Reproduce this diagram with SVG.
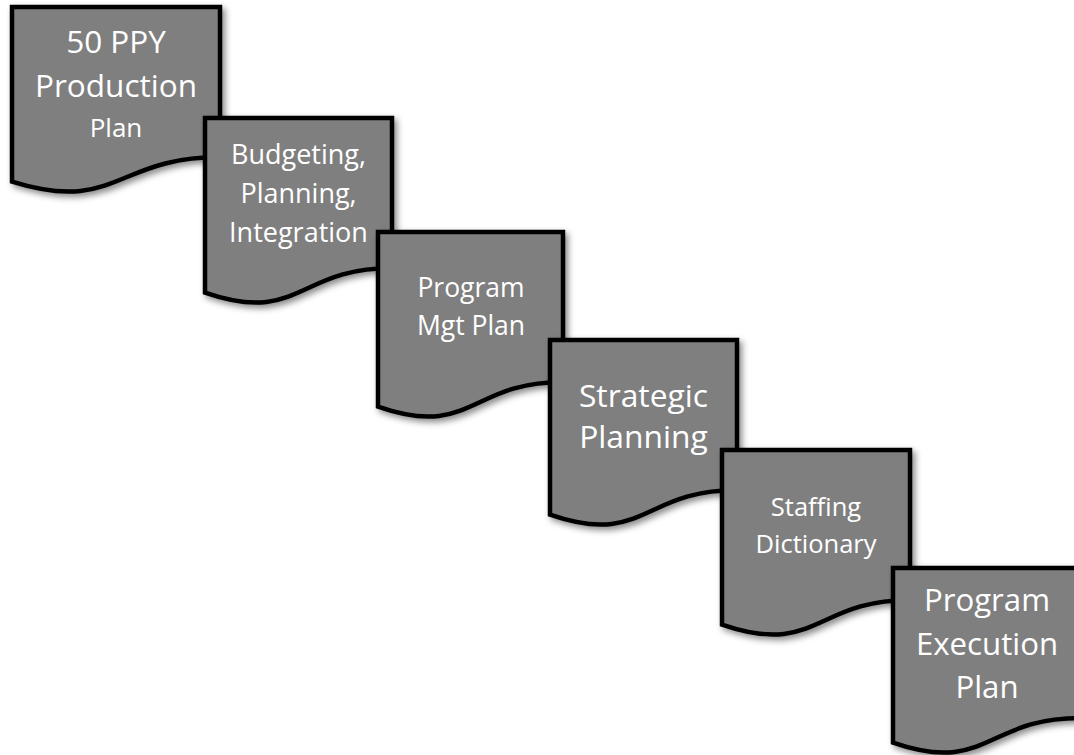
<svg xmlns="http://www.w3.org/2000/svg" width="1074" height="755" viewBox="0 0 1074 755">
<defs>
<style>
.doc{fill:#7f7f7f;stroke:#000;stroke-width:4.5;stroke-linejoin:miter;filter:url(#sh)}
.t{fill:#fff;font-family:"Open Sans","Noto Sans",sans-serif;text-anchor:middle}
</style>
<filter id="sh" x="-10%" y="-10%" width="130%" height="130%">
<feDropShadow dx="3" dy="3.5" stdDeviation="3" flood-color="#000" flood-opacity="0.45"/>
</filter>
</defs>
<rect width="1074" height="755" fill="#fff"/>
<g id="connectors"></g>
<g id="n1">
<path class="doc" d="M12,7 H220 V157 C116,157 116,214 12,181.6 Z"/>
<text class="t" x="116" y="53" font-size="31.5">50 PPY</text>
<text class="t" x="116" y="97" font-size="31.5">Production</text>
<text class="t" x="116" y="137" font-size="26">Plan</text>
</g>
<g id="n2">
<path class="doc" d="M205,118 H392 V268 C298.5,268 298.5,325 205,292.6 Z"/>
<text class="t" x="298.5" y="164" font-size="27">Budgeting,</text>
<text class="t" x="298.5" y="203" font-size="27">Planning,</text>
<text class="t" x="298.5" y="242" font-size="27">Integration</text>
</g>
<g id="n3">
<path class="doc" d="M378,232 H563 V382 C470.5,382 470.5,439 378,406.6 Z"/>
<text class="t" x="471" y="297" font-size="26.5">Program</text>
<text class="t" x="471" y="335" font-size="26.5">Mgt Plan</text>
</g>
<g id="n4">
<path class="doc" d="M550,340 H737 V490 C643.5,490 643.5,547 550,514.6 Z"/>
<text class="t" x="643.5" y="407" font-size="31.8">Strategic</text>
<text class="t" x="643.5" y="448" font-size="31.8">Planning</text>
</g>
<g id="n5">
<path class="doc" d="M722,450 H910 V600 C816,600 816,657 722,624.6 Z"/>
<text class="t" x="816" y="516" font-size="25.5">Staffing</text>
<text class="t" x="816" y="553" font-size="25.5">Dictionary</text>
</g>
<g id="n6">
<path class="doc" d="M893,568 H1080 V718 C986.5,718 986.5,775 893,742.6 Z"/>
<text class="t" x="987" y="611" font-size="31.2">Program</text>
<text class="t" x="987" y="655" font-size="31.2">Execution</text>
<text class="t" x="987" y="698" font-size="31.2">Plan</text>
</g>
</svg>
